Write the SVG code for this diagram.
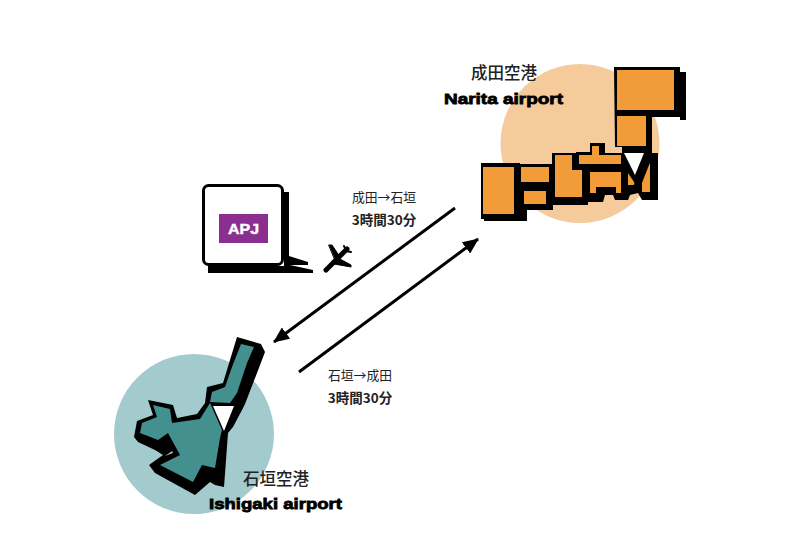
<svg xmlns="http://www.w3.org/2000/svg" width="800" height="560" viewBox="0 0 800 560">
<style>
.k{fill:#000}
.o{fill:#F19C38}
.t{fill:#44908F}
.ja{font-family:"Noto Sans CJK JP","Liberation Sans",sans-serif;fill:#222}
.en{font-family:"Liberation Sans",Arial,sans-serif;font-weight:700;fill:#000;stroke:#000;stroke-width:.8}
.a{stroke:#000;stroke-width:3;fill:none;marker-end:url(#h)}
</style>
<defs><marker id="h" markerUnits="userSpaceOnUse" markerWidth="16" markerHeight="14" refX="15" refY="7" orient="auto"><path d="M0 0L16 7L0 14Z" fill="#000"/></marker></defs>
<rect width="800" height="560" fill="#fff"/>
<g id="narita">
<circle cx="580" cy="143.500" r="79.500" fill="#F6CB9C"/>
<path class="k" d="M614 67H680V72H686V120H680V117H652V153H658V200H642L638 193L630 195L628 200H615L613 195H605L603 202H588V205H553V210H527V221H484V219H481V163H520V164H552V153H576V152H590V143H605V153H622V147H615Z"/>
<rect class="o" x="617" y="70" width="57" height="40"/>
<rect class="o" x="617" y="116" width="29" height="30"/>
<rect class="o" x="483" y="167" width="31" height="47"/>
<rect class="o" x="521" y="167" width="28" height="15"/>
<rect class="o" x="524" y="191" width="22" height="13"/>
<path class="o" d="M555 155H572V170H582V197H555Z"/>
<path class="o" d="M579 155H592V146H599V155H621V164H579Z"/>
<path class="o" d="M590 172H621V193H616V187H596V193H590Z"/>
<path class="o" d="M628 173V185H636Z"/>
<path class="o" d="M650 158V192H642V180Z"/>
<path fill="#fff" d="M624 153H644L635 175Z"/>
<path d="M650 153L637 186" stroke="#000" stroke-width="7"/>
<text class="ja" x="504" y="79" font-size="16.500" font-weight="500" text-anchor="middle">成田空港</text>
<text class="en" x="503.500" y="104" font-size="15.500" text-anchor="middle" textLength="119" lengthAdjust="spacingAndGlyphs">Narita airport</text>
</g>
<g id="ishigaki">
<circle cx="194" cy="434" r="80" fill="#A3CBCD"/>
<path class="k" d="M237 337L261 344L265 352L257 373L245 404L242 410L233 427L228 433L224 487L215 485L210 482L195 495L155 473L149 465L163 455L155 450L138 442L134 437L137 421L153 415L148 400L173 405L177 418L197 414L205 403L207 387L223 383Z"/>
<path class="t" d="M241 344L254 347L247 363L237 393L230 403L210 402L212 392L225 387L232 367Z"/>
<path class="t" d="M153 405L170 409L172 423L200 419L210 403L222 430L220 438L215 468L202 465L193 482L160 465L180 455L168 433L158 440L140 433L142 423L157 417Z"/>
<path fill="#fff" d="M213 406H234L224 431Z"/>
<path fill="#fff" opacity=".7" d="M172 451L173 453L165 456Z"/>
<text class="ja" x="276" y="485" font-size="16.500" font-weight="500" text-anchor="middle">石垣空港</text>
<text class="en" x="275.500" y="509" font-size="15.500" text-anchor="middle" textLength="133" lengthAdjust="spacingAndGlyphs">Ishigaki airport</text>
</g>
<g id="apj">
<path class="k" d="M284 192H289V256L308 262V265H290L313 270V273H208V266H284Z"/>
<rect x="203.500" y="185.500" width="79" height="79" rx="5" fill="#fff" stroke="#000" stroke-width="3"/>
<rect x="219" y="214" width="49" height="29" fill="#8A2F90"/>
<text x="243.500" y="234" font-size="14" font-weight="700" fill="#fff" stroke="#fff" stroke-width=".4" text-anchor="middle" textLength="31" lengthAdjust="spacingAndGlyphs" font-family="Liberation Sans,sans-serif">APJ</text>
</g>
<g id="plane" fill="none" stroke="#000" stroke-linecap="round" stroke-linejoin="round">
<path d="M326 270L347 249" stroke-width="5"/>
<path class="k" stroke-width="1" d="M329 245L332 245L340 257L336 262Z"/>
<path class="k" stroke-width="1" d="M338 258L351 265L351 267L334 264Z"/>
<path d="M344 246L346 251L351 252" stroke-width="2"/>
</g>
<g id="connectors">
<path class="a" d="M455 208L274 342"/>
<path class="a" d="M299 372L478 239"/>
</g>
<g id="labels">
<text class="ja" x="384" y="202" font-size="12.800" text-anchor="middle">成田→石垣</text>
<text class="ja" x="384" y="225" font-size="13.500" font-weight="700" text-anchor="middle">3時間30分</text>
<text class="ja" x="360" y="380" font-size="12.800" text-anchor="middle">石垣→成田</text>
<text class="ja" x="360" y="403" font-size="13.500" font-weight="700" text-anchor="middle">3時間30分</text>
</g>
</svg>
